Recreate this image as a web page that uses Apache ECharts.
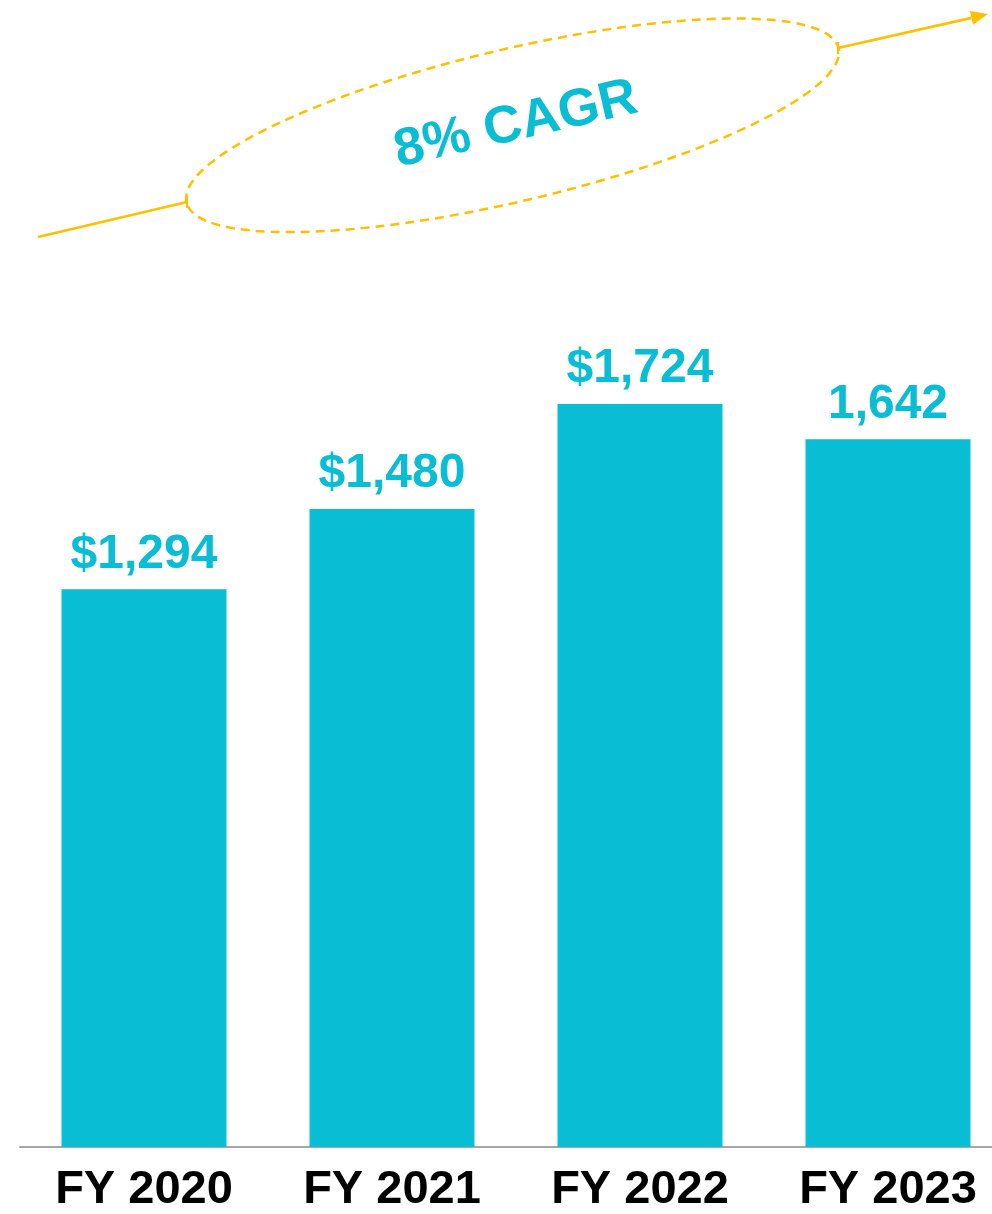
<!DOCTYPE html>
<html>
<head>
<meta charset="utf-8">
<script src="https://cdn.jsdelivr.net/npm/echarts@6/dist/echarts.min.js"></script>
<style>
html,body{margin:0;padding:0;background:#fff;}
#chart{width:992px;height:1214px;}
</style>
</head>
<body>
<div id="chart"></div>
<script>
// Data
const categories = ['FY 2020', 'FY 2021', 'FY 2022', 'FY 2023'];
const values = [1294, 1480, 1724, 1642];
const valueLabels = ['$1,294', '$1,480', '$1,724', '1,642'];
const cagrText = '8% CAGR';

const TEAL = '#08BDD4';
const GOLD = '#FFC000';
const FONT = "'Liberation Sans', Arial, sans-serif";

const chart = echarts.init(document.getElementById('chart'), null, {renderer: 'canvas'});

const ang = 13.3 * Math.PI / 180;
// arrowhead geometry (decoration)
const tip = [988, 14];
const ux = Math.cos(ang), uy = -Math.sin(ang);
const nx = Math.sin(ang), ny = Math.cos(ang);
const base = [tip[0] - 17 * ux, tip[1] - 17 * uy];

chart.setOption({
  animation: false,
  backgroundColor: '#fff',
  grid: {left: 20, width: 992, top: 285, bottom: 67, containLabel: false, outerBoundsMode: 'none'},
  xAxis: {
    type: 'category',
    data: categories,
    axisTick: {show: false},
    axisLine: {show: true, lineStyle: {color: '#A6A6A6', width: 2}},
    axisLabel: {
      color: '#000', fontSize: 47, fontWeight: 'bold', fontFamily: FONT, margin: 20
    }
  },
  yAxis: {
    type: 'value', min: 0, max: 2000,
    show: false, splitLine: {show: false}
  },
  series: [{
    type: 'bar',
    data: values,
    barWidth: 165,
    itemStyle: {color: TEAL},
    label: {
      show: true, position: 'top', distance: 11,
      color: TEAL, fontSize: 48, fontWeight: 'bold', fontFamily: FONT,
      formatter: p => valueLabels[p.dataIndex]
    }
  }],
  graphic: [
    {type: 'line', shape: {x1: 38, y1: 237, x2: 187, y2: 202},
     style: {stroke: GOLD, lineWidth: 2.8}},
    {type: 'line', shape: {x1: 187, y1: 196, x2: 187, y2: 208},
     style: {stroke: GOLD, lineWidth: 2}},
    {type: 'line', shape: {x1: 838, y1: 48, x2: base[0], y2: base[1]},
     style: {stroke: GOLD, lineWidth: 2.8}},
    {type: 'line', shape: {x1: 838, y1: 42, x2: 838, y2: 54},
     style: {stroke: GOLD, lineWidth: 2}},
    {type: 'polygon', shape: {points: [tip,
        [base[0] + 7 * nx, base[1] + 7 * ny],
        [base[0] - 7 * nx, base[1] - 7 * ny]]},
     style: {fill: GOLD}},
    {type: 'ellipse', x: 512.5, y: 125.3, rotation: ang,
     shape: {cx: 0, cy: 0, rx: 335, ry: 76},
     style: {fill: 'none', stroke: GOLD, lineWidth: 2.5, lineDash: [9, 6]}},
    {type: 'text', x: 516, y: 125, rotation: 12.8 * Math.PI / 180,
     style: {text: cagrText, fill: TEAL, font: "bold 53px " + FONT,
             align: 'center', verticalAlign: 'middle'}}
  ]
});
</script>
</body>
</html>
